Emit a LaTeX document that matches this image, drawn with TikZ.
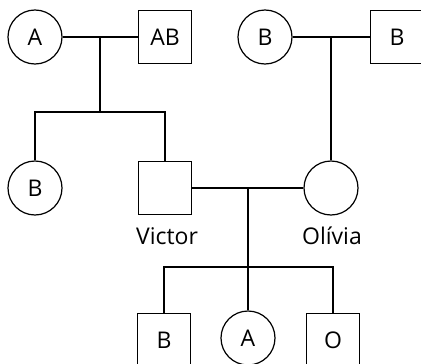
\documentclass[tikz,border=0pt]{standalone}
\usepackage{fontspec}
\setmainfont{Open Sans}
\usepackage{tikz}

\begin{document}
\begin{tikzpicture}[x=1pt, y=-1pt, line width=1.2pt,
	fem/.style = {draw, circle, minimum size=54pt, inner sep=0pt, font=\fontsize{23}{27}\selectfont},
	mal/.style = {draw, rectangle, minimum size=53pt, inner sep=0pt, font=\fontsize{23}{27}\selectfont},
	tag/.style = {draw=none, font=\fontsize{23}{27}\selectfont}]
\useasboundingbox (0,0) rectangle (421,364);
% first generation
\node[fem] (a) at (35,37) {A};
\node[mal] (ab) at (165,37) {AB};
\node[fem] (b) at (265,37) {B};
\node[mal] (bb) at (397,37) {B};
% second generation
\node[fem] (d) at (35,188) {B};
\node[mal] (vic) at (165,188) {};
\node[fem] (oli) at (331,188) {};
\node[tag] (victag) at (167,236) {Victor};
\node[tag] (olitag) at (332,236) {Olívia};
% third generation
\node[mal] (c1) at (164,340) {B};
\node[fem] (c2) at (248,338) {A};
\node[mal] (c3) at (333,340) {O};
% couples and children
\coordinate (m1) at (100,37);
\coordinate (s1) at (100,112);
\coordinate (m2) at (331,37);
\coordinate (m3) at (248,188);
\coordinate (s3) at (248,267);
\draw (a) -- (ab);
\draw (m1) -- (s1);
\draw (d.north) |- (s1) -| (vic.north);
\draw (b) -- (bb);
\draw (m2) -- (oli.north);
\draw (vic) -- (oli);
\draw (m3) -- (s3);
\draw (c1.north) |- (s3) -| (c3.north);
\draw (s3) -- (c2.north);
\end{tikzpicture}
\end{document}
